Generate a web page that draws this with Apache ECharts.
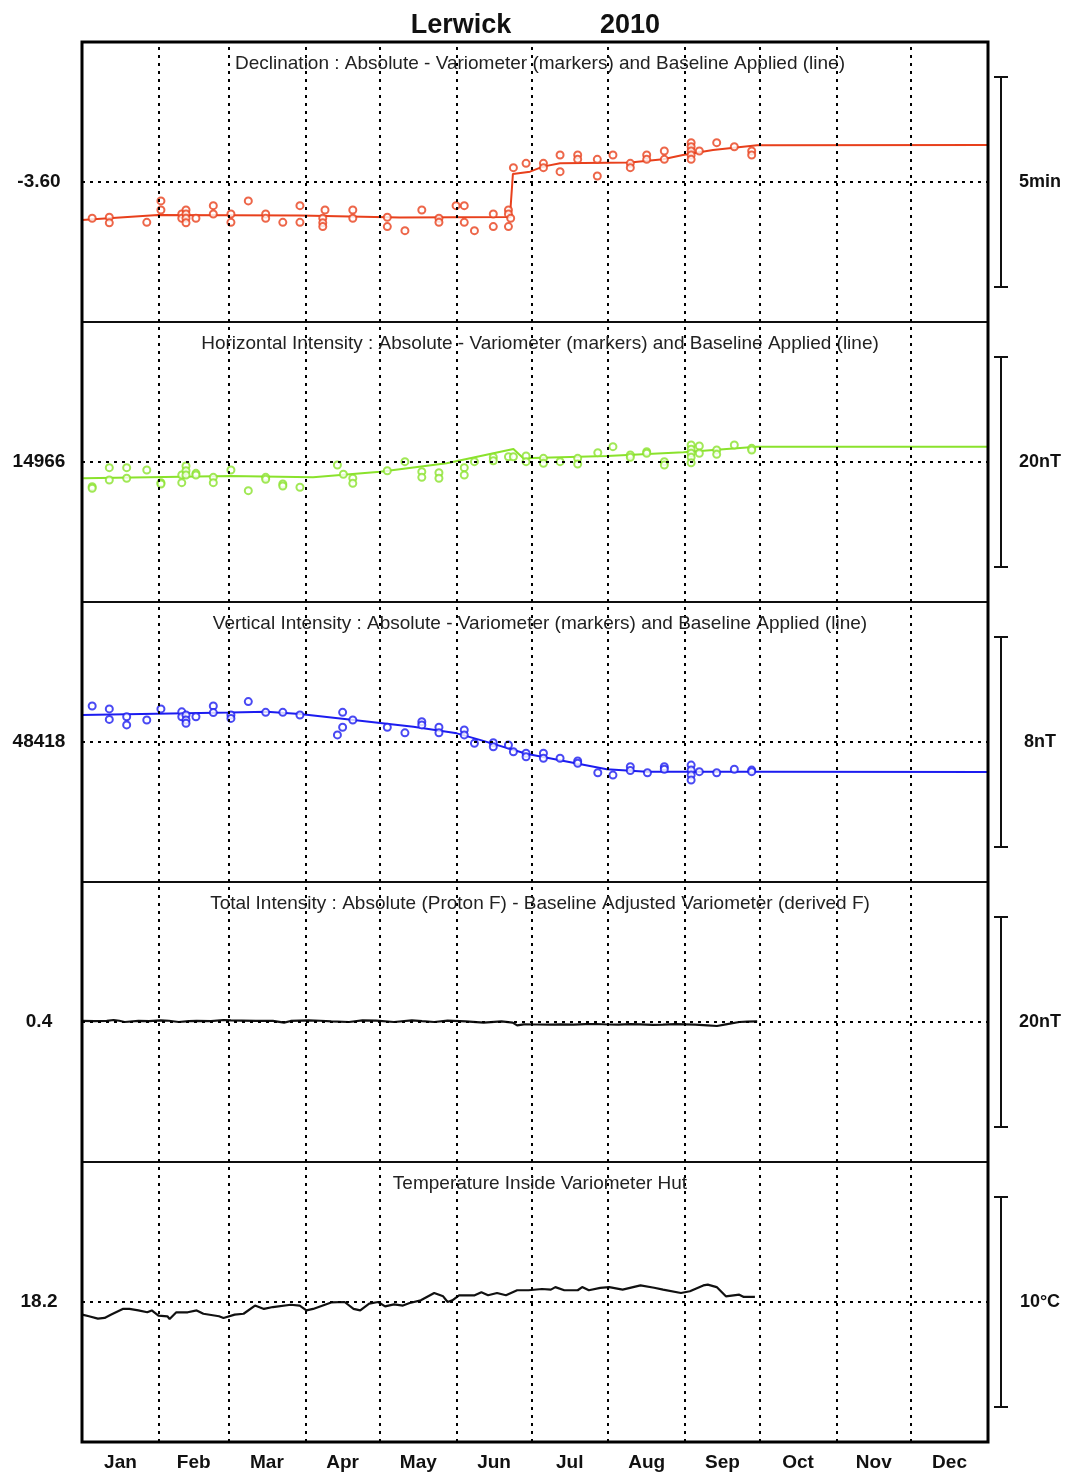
<!DOCTYPE html>
<html>
<head>
<meta charset="utf-8">
<title>Lerwick 2010</title>
<script src="https://cdn.jsdelivr.net/npm/echarts@6/dist/echarts.min.js"></script>
<style>
  html, body { margin: 0; padding: 0; background: #fff; }
  #chart { width: 1067px; height: 1472px; }
</style>
</head>
<body>
<div id="chart"></div>
<script>
(function() {
    'use strict';

    // month boundaries and label positions (day of year)
    var monthNames = ['Jan', 'Feb', 'Mar', 'Apr', 'May', 'Jun', 'Jul', 'Aug', 'Sep', 'Oct', 'Nov', 'Dec'];
    var monthStarts = [31, 59, 90, 120, 151, 181, 212, 243, 273, 304, 334];
    var monthMids = [15.5, 45, 74.5, 105, 135.5, 166, 196.5, 227.5, 258, 288.5, 319, 349.5];

    var panelTitles = [
        'Declination : Absolute - Variometer (markers) and Baseline Applied (line)',
        'Horizontal Intensity : Absolute - Variometer (markers) and Baseline Applied (line)',
        'Vertical Intensity : Absolute - Variometer (markers) and Baseline Applied (line)',
        'Total Intensity : Absolute (Proton F) - Baseline Adjusted Variometer (derived F)',
        'Temperature Inside Variometer Hut'
    ];
    var centerValues = [-3.60, 14966, 48418, 0.4, 18.2];
    var centerLabels = ['-3.60', '14966', '48418', '0.4', '18.2'];
    // scale bar on the right: 5 min (in degrees), 20 nT, 8 nT, 20 nT, 10 C
    var scaleValues = [0.083333, 20, 8, 20, 10];
    var scaleLabels = ['5min', '20nT', '8nT', '20nT', '10°C'];
    var seriesColors = ['#e8401c', '#8ae22c', '#1c1cf0', '#111', '#111'];

    // declination (degrees)
    var declLine = [[0, -3.6151], [30.6, -3.6131], [87.8, -3.6133], [128, -3.6141], [172.4, -3.6139],
        [173.6, -3.5968], [180.5, -3.5959], [185.7, -3.5939], [192.6, -3.5926], [220.8, -3.5923],
        [234.1, -3.5910], [242.1, -3.5893], [254.2, -3.5873], [272, -3.5854], [365, -3.5853]];
    var declMarks = [[4.1, -3.6144], [11.0, -3.6140], [11.0, -3.6162], [26.1, -3.6160], [31.8, -3.6075],
        [31.8, -3.6111], [40.2, -3.6127], [40.2, -3.6144], [41.9, -3.6111], [41.9, -3.6127],
        [41.9, -3.6144], [41.9, -3.6162], [45.9, -3.6144], [52.9, -3.6094], [52.9, -3.6127],
        [60.0, -3.6127], [60.0, -3.6160], [67.0, -3.6075], [74.0, -3.6127], [74.0, -3.6144],
        [80.9, -3.6160], [87.8, -3.6094], [87.8, -3.6160], [97.9, -3.6111], [97.0, -3.6144],
        [97.0, -3.6162], [97.0, -3.6177], [109.1, -3.6111], [109.1, -3.6144], [123.0, -3.6140],
        [123.0, -3.6177], [130.1, -3.6193], [136.9, -3.6111], [143.8, -3.6144], [143.8, -3.6160],
        [150.7, -3.6094], [154.0, -3.6094], [154.0, -3.6160], [158.1, -3.6193], [165.7, -3.6127],
        [165.7, -3.6177], [171.8, -3.6111], [171.8, -3.6127], [172.7, -3.6144], [171.8, -3.6177],
        [173.8, -3.5943], [178.9, -3.5926], [185.9, -3.5926], [185.9, -3.5943], [192.6, -3.5893],
        [192.6, -3.5959], [199.7, -3.5893], [199.7, -3.5910], [207.6, -3.5910], [207.6, -3.5976],
        [213.9, -3.5893], [220.9, -3.5926], [220.9, -3.5943], [227.5, -3.5893], [227.5, -3.5910],
        [234.6, -3.5877], [234.6, -3.5910], [245.4, -3.5844], [245.4, -3.5860], [245.4, -3.5877],
        [245.4, -3.5893], [245.4, -3.5910], [248.7, -3.5877], [255.7, -3.5844], [262.8, -3.5860],
        [269.8, -3.5877], [269.8, -3.5893]];

    // horizontal intensity (nT)
    var horLine = [[0.5, 14964.45], [59.6, 14964.67], [93.1, 14964.54], [120.1, 14965.08], [146.9, 14965.88],
        [173.8, 14967.24], [177.8, 14966.35], [211.4, 14966.57], [242.3, 14966.92], [271.8, 14967.46],
        [365, 14967.46]];
    var horMarks = [[4.1, 14963.65], [4.1, 14963.50], [11.0, 14965.46], [11.0, 14964.29], [18.0, 14965.46],
        [18.0, 14964.45], [26.1, 14965.24], [31.8, 14964.03], [31.8, 14963.90], [40.2, 14964.76],
        [40.2, 14964.03], [41.9, 14965.62], [41.9, 14965.17], [41.9, 14964.76], [45.9, 14964.92],
        [45.9, 14964.76], [52.9, 14964.54], [52.9, 14964.03], [60.0, 14965.24], [67.0, 14963.27],
        [74.0, 14964.54], [74.0, 14964.35], [80.9, 14963.90], [80.9, 14963.71], [87.8, 14963.59],
        [102.9, 14965.71], [105.3, 14964.83], [109.1, 14964.45], [109.1, 14963.97], [123.0, 14965.17],
        [130.1, 14966.03], [136.9, 14965.08], [136.9, 14964.54], [143.8, 14964.98], [143.8, 14964.45],
        [154.0, 14965.46], [154.0, 14964.76], [158.1, 14966.03], [165.7, 14966.45], [165.7, 14966.12],
        [171.8, 14966.50], [173.8, 14966.50], [178.9, 14966.57], [178.9, 14966.03], [185.9, 14966.35],
        [185.9, 14965.88], [192.6, 14966.03], [199.7, 14966.35], [199.7, 14965.81], [207.8, 14966.89],
        [213.9, 14967.46], [220.9, 14966.67], [220.9, 14966.45], [227.5, 14966.98], [227.5, 14966.83],
        [234.6, 14966.03], [234.6, 14965.71], [245.4, 14967.62], [245.4, 14967.21], [245.4, 14966.83],
        [245.4, 14966.45], [245.4, 14965.93], [248.7, 14967.52], [248.7, 14966.83], [255.7, 14967.14],
        [255.7, 14966.73], [262.8, 14967.62], [269.8, 14967.30], [269.8, 14967.14]];

    // vertical intensity (nT)
    var vertLine = [[0, 48419.03], [59.6, 48419.12], [74.4, 48419.15], [87.8, 48419.07], [109.4, 48418.84],
        [133.5, 48418.58], [151, 48418.33], [160.3, 48418.08], [179, 48417.55], [211.4, 48416.96],
        [227.5, 48416.87], [273, 48416.87], [365, 48416.86]];
    var vertMarks = [[4.1, 48419.37], [11.0, 48419.26], [11.0, 48418.86], [18.0, 48418.96], [18.0, 48418.65],
        [26.1, 48418.84], [31.8, 48419.26], [40.2, 48419.15], [40.2, 48418.96], [41.9, 48419.03],
        [41.9, 48418.84], [41.9, 48418.71], [45.9, 48418.96], [52.9, 48419.37], [52.9, 48419.12],
        [60.0, 48419.03], [60.0, 48418.90], [67.0, 48419.54], [74.0, 48419.13], [80.9, 48419.13],
        [87.8, 48419.03], [105.0, 48419.13], [105.0, 48418.56], [102.9, 48418.27], [109.1, 48418.84],
        [123.0, 48418.56], [130.1, 48418.35], [136.9, 48418.77], [136.9, 48418.65], [143.8, 48418.56],
        [143.8, 48418.35], [154.0, 48418.46], [154.0, 48418.27], [158.1, 48417.95], [165.7, 48417.97],
        [165.7, 48417.82], [171.8, 48417.89], [173.8, 48417.63], [178.9, 48417.57], [178.9, 48417.44],
        [185.9, 48417.57], [185.9, 48417.38], [192.6, 48417.38], [199.7, 48417.28], [199.7, 48417.19],
        [207.8, 48416.83], [213.9, 48416.74], [220.9, 48417.06], [220.9, 48416.91], [227.8, 48416.83],
        [234.6, 48417.06], [234.6, 48416.96], [245.4, 48417.12], [245.4, 48416.93], [245.4, 48416.74],
        [245.4, 48416.55], [248.7, 48416.87], [255.7, 48416.83], [262.8, 48416.96], [269.8, 48416.93],
        [269.8, 48416.87]];

    // total intensity difference (nT)
    var totalDiff = [[0, 0.50], [5, 0.48], [10, 0.50], [12.7, 0.59], [15, 0.52], [17.2, 0.40], [22.7, 0.50],
        [27, 0.48], [31.7, 0.56], [35, 0.52], [39, 0.40], [43, 0.48], [46.2, 0.50], [52, 0.48], [57, 0.59],
        [60, 0.55], [64.2, 0.53], [70, 0.50], [76.9, 0.50], [81.4, 0.34], [84.1, 0.50], [91.3, 0.56],
        [96, 0.52], [100.4, 0.46], [107.6, 0.40], [113, 0.56], [118.5, 0.53], [125.7, 0.40], [132.9, 0.56],
        [137, 0.48], [141.9, 0.40], [147.3, 0.53], [154.6, 0.46], [161.8, 0.34], [169, 0.46], [173.5, 0.34],
        [175.3, 0.08], [178, 0.18], [183, 0.16], [188.9, 0.15], [193, 0.17], [198, 0.15], [203, 0.19],
        [207, 0.21], [212, 0.16], [216, 0.15], [221, 0.19], [225, 0.18], [230, 0.13], [234, 0.15],
        [239, 0.19], [243, 0.18], [247, 0.15], [252, 0.08], [255.8, 0.02], [259.4, 0.18], [264.8, 0.40],
        [268, 0.43], [272, 0.46]];

    // hut temperature (C)
    var hutTemp = [[0.1, 17.60], [2.8, 17.52], [6.4, 17.41], [9.1, 17.44], [11.8, 17.60], [16.4, 17.87],
        [19.1, 17.87], [22.7, 17.80], [26.3, 17.71], [28.1, 17.80], [30.8, 17.55], [34.4, 17.52],
        [35.3, 17.39], [38.0, 17.71], [42.6, 17.71], [46.2, 17.80], [48.9, 17.64], [55.2, 17.52],
        [57.0, 17.44], [61.5, 17.60], [65.1, 17.64], [69.7, 18.03], [73.3, 17.87], [76.9, 17.96],
        [84.1, 18.07], [87.7, 18.03], [90.4, 17.80], [93.1, 17.87], [100.4, 18.18], [105.8, 18.20],
        [109.4, 17.87], [112.1, 17.80], [115.7, 18.12], [119.3, 18.20], [122.1, 17.99], [125.7, 18.09],
        [129.3, 18.03], [132.0, 18.15], [136.5, 18.28], [141.9, 18.63], [145.5, 18.47], [147.3, 18.20],
        [149.2, 18.28], [151.9, 18.52], [158.2, 18.52], [160.9, 18.66], [163.6, 18.52], [167.2, 18.63],
        [170.8, 18.52], [175.3, 18.76], [179.9, 18.76], [185.3, 18.82], [188.9, 18.79], [190.7, 18.91],
        [194.3, 18.76], [199.7, 18.76], [201.5, 18.91], [204.2, 18.76], [208.8, 18.87], [212.4, 18.91],
        [217.8, 18.79], [225.0, 18.99], [230.5, 18.88], [234.1, 18.79], [241.3, 18.63], [244.9, 18.71],
        [250.3, 18.99], [252.1, 19.03], [255.7, 18.91], [259.4, 18.47], [264.8, 18.55], [266.6, 18.44],
        [271.1, 18.44]];

    var panelLines = [declLine, horLine, vertLine, totalDiff, hutTemp];
    var panelMarks = [declMarks, horMarks, vertMarks, null, null];

    // layout
    var W = 1067, LEFT = 82, RIGHT = 79, TOP = 42, PANEL_H = 280;
    var FONT = 'Liberation Sans, Arial, sans-serif';

    var chart = echarts.init(document.getElementById('chart'), null, {renderer: 'canvas'});

    var titles = [
        {text: 'Lerwick', left: 456, top: 7, textAlign: 'center'},
        {text: '2010', left: 625, top: 7, textAlign: 'center'}
    ].map(function(t) {
        t.textStyle = {fontFamily: FONT, fontSize: 27, fontWeight: 'bold', color: '#111'};
        return t;
    });
    panelTitles.forEach(function(txt, i) {
        titles.push({
            text: txt,
            left: LEFT + (W - LEFT - RIGHT) / 2,
            textAlign: 'center',
            top: TOP + i * PANEL_H + 7,
            textStyle: {fontFamily: FONT, fontSize: 19, fontWeight: 'normal', color: '#222'}
        });
    });

    var grids = [], xAxes = [], yAxes = [], series = [];

    panelTitles.forEach(function(txt, i) {
        var c = centerValues[i];
        var half = scaleValues[i] * 2 / 3;  // scale bar covers 3/4 of panel height

        grids.push({
            left: LEFT, right: RIGHT, top: TOP + i * PANEL_H, height: PANEL_H,
            show: true, borderColor: '#000', borderWidth: 1.5, backgroundColor: 'transparent'
        });

        xAxes.push({
            type: 'value', gridIndex: i, min: 0, max: 365,
            axisLine: {show: false}, axisTick: {show: false}, splitLine: {show: false},
            axisLabel: i === 4 ? {
                customValues: monthMids,
                formatter: function(v) {
                    return monthNames[monthMids.indexOf(v)];
                },
                margin: 11, fontFamily: FONT, fontSize: 19, fontWeight: 'bold', color: '#111'
            } : {show: false}
        });

        yAxes.push({
            type: 'value', gridIndex: i, min: c - half, max: c + half,
            axisLine: {show: false}, axisTick: {show: false}, splitLine: {show: false},
            axisLabel: {
                customValues: [c],
                formatter: function() { return centerLabels[i]; },
                align: 'center', margin: 43,
                fontFamily: FONT, fontSize: 19, fontWeight: 'bold', color: '#111'
            }
        });

        // dotted month lines and centre line
        series.push({
            type: 'line', xAxisIndex: i, yAxisIndex: i, z: 1, silent: true,
            data: [[0, c]], symbol: 'none', lineStyle: {opacity: 0},
            markLine: {
                silent: true, symbol: 'none', animation: false,
                label: {show: false},
                emphasis: {disabled: true},
                lineStyle: {color: '#000', type: [3, 5], width: 2},
                data: monthStarts.map(function(d) { return {xAxis: d}; }).concat([{yAxis: c}])
            }
        });

        series.push({
            type: 'line', xAxisIndex: i, yAxisIndex: i, z: 3,
            data: panelLines[i], showSymbol: false, symbol: 'none',
            lineStyle: {color: seriesColors[i], width: i < 3 ? 2 : 2.2},
            animation: false
        });

        if (panelMarks[i]) {
            series.push({
                type: 'scatter', xAxisIndex: i, yAxisIndex: i, z: 4,
                data: panelMarks[i], symbol: 'circle', symbolSize: 7,
                itemStyle: {color: '#fff', borderColor: seriesColors[i], borderWidth: 2},
                animation: false
            });
        }
    });

    chart.setOption({
        backgroundColor: '#fff',
        animation: false,
        title: titles,
        grid: grids,
        xAxis: xAxes,
        yAxis: yAxes,
        series: series
    });

    // outer frame and scale bars on the right
    var els = [{
        type: 'rect', z: 100, silent: true,
        shape: {x: LEFT, y: TOP, width: W - LEFT - RIGHT, height: PANEL_H * 5},
        style: {fill: 'none', stroke: '#000', lineWidth: 3}
    }];
    var barX = 1001;
    scaleValues.forEach(function(bar, i) {
        var yTop = chart.convertToPixel({gridIndex: i}, [0, centerValues[i] + bar / 2])[1];
        var yBot = chart.convertToPixel({gridIndex: i}, [0, centerValues[i] - bar / 2])[1];
        var yMid = chart.convertToPixel({gridIndex: i}, [0, centerValues[i]])[1];
        var st = {stroke: '#111', lineWidth: 2};
        els.push({type: 'line', silent: true, shape: {x1: barX, y1: yTop, x2: barX, y2: yBot}, style: st});
        els.push({type: 'line', silent: true, shape: {x1: barX - 7, y1: yTop, x2: barX + 7, y2: yTop}, style: st});
        els.push({type: 'line', silent: true, shape: {x1: barX - 7, y1: yBot, x2: barX + 7, y2: yBot}, style: st});
        els.push({
            type: 'text', silent: true, x: 1040, y: yMid,
            style: {
                text: scaleLabels[i], align: 'center', verticalAlign: 'middle',
                font: 'bold 18px ' + FONT, fill: '#111'
            }
        });
    });
    chart.setOption({graphic: els});

    window.addEventListener('resize', chart.resize);
})();
</script>
</body>
</html>
